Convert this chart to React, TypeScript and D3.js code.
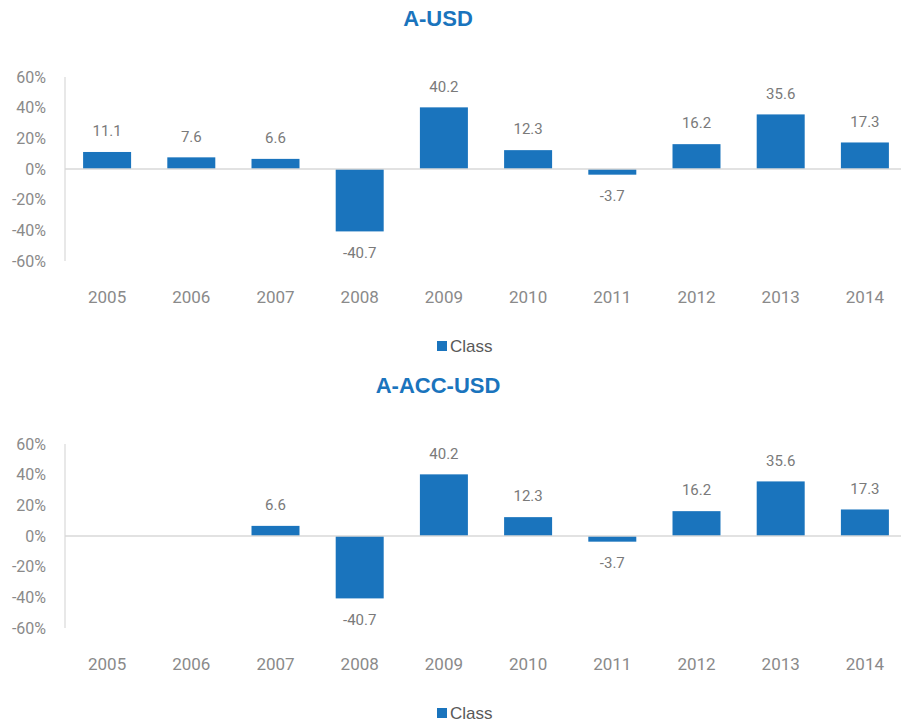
import React, { useRef, useEffect } from "react";
import * as d3 from "d3";

const years = ["2005", "2006", "2007", "2008", "2009", "2010", "2011", "2012", "2013", "2014"];
const usdValues: (number | null)[] = [11.1, 7.6, 6.6, -40.7, 40.2, 12.3, -3.7, 16.2, 35.6, 17.3];
const accValues: (number | null)[] = [null, null, 6.6, -40.7, 40.2, 12.3, -3.7, 16.2, 35.6, 17.3];
const yTicks = [60, 40, 20, 0, -20, -40, -60];

const BLUE = "#1a74bd";
const width = 901;
const height = 722;

const App = () => {
  const svgRef = useRef<SVGSVGElement>(null);

  useEffect(() => {
    const svg = d3.select(svgRef.current);
    svg.selectAll("*").remove();

    const drawChart = (title: string, values: (number | null)[], top: number) => {
      const g = svg.append("g").attr("transform", `translate(0,${top})`);

      // title
      g.append("text")
        .attr("x", 438)
        .attr("y", 26)
        .attr("text-anchor", "middle")
        .attr("font-family", "Liberation Sans, Arial, sans-serif")
        .attr("font-weight", "bold")
        .attr("font-size", 22)
        .attr("fill", BLUE)
        .text(title);

      const x = d3.scaleBand()
        .domain(years)
        .range([65, 907])
        .paddingInner(0.43)
        .paddingOuter(0.215);

      const y = d3.scaleLinear()
        .domain([-60, 60])
        .range([261, 77]);

      // y axis line
      g.append("line")
        .attr("x1", 65).attr("x2", 65)
        .attr("y1", y(60)).attr("y2", y(-60))
        .attr("stroke", "#d9d9d9")
        .attr("stroke-width", 1.2);

      // y tick labels
      g.append("g")
        .selectAll("text")
        .data(yTicks)
        .join("text")
        .attr("x", 46)
        .attr("y", d => y(d))
        .attr("dy", "0.35em")
        .attr("text-anchor", "end")
        .attr("font-family", "Roboto, sans-serif")
        .attr("font-size", 16)
        .attr("fill", "#8a8a8a")
        .text(d => `${d}%`);

      // bars
      const data = years.map((yr, i) => ({ yr, v: values[i] })).filter(d => d.v !== null) as { yr: string; v: number }[];

      g.append("g")
        .attr("fill", BLUE)
        .selectAll("rect")
        .data(data)
        .join("rect")
        .attr("x", d => x(d.yr)!)
        .attr("y", d => y(Math.max(0, d.v)))
        .attr("width", x.bandwidth())
        .attr("height", d => Math.abs(y(d.v) - y(0)));

      // zero line
      g.append("line")
        .attr("x1", 65).attr("x2", width)
        .attr("y1", y(0)).attr("y2", y(0))
        .attr("stroke", "#d9d9d9")
        .attr("stroke-width", 1.5);

      // value labels (plain hyphen for negatives, like the source)
      g.append("g")
        .selectAll("text")
        .data(data)
        .join("text")
        .attr("x", d => x(d.yr)! + x.bandwidth() / 2)
        .attr("y", d => (d.v >= 0 ? y(d.v) - 21 : y(d.v) + 21))
        .attr("dy", "0.35em")
        .attr("text-anchor", "middle")
        .attr("font-family", "Roboto, sans-serif")
        .attr("font-size", 15)
        .attr("fill", "#7a7a7a")
        .text(d => d.v.toFixed(1));

      // x labels
      g.append("g")
        .selectAll("text")
        .data(years)
        .join("text")
        .attr("x", d => x(d)! + x.bandwidth() / 2)
        .attr("y", 297)
        .attr("dy", "0.35em")
        .attr("text-anchor", "middle")
        .attr("font-family", "Roboto, sans-serif")
        .attr("font-size", 17)
        .attr("fill", "#8a8a8a")
        .text(d => d);

      // legend
      const lg = g.append("g").attr("transform", "translate(437,346)");
      lg.append("rect")
        .attr("x", 0).attr("y", -5)
        .attr("width", 10).attr("height", 10)
        .attr("fill", BLUE);
      lg.append("text")
        .attr("x", 13)
        .attr("y", 0)
        .attr("dy", "0.35em")
        .attr("font-family", "Liberation Sans, Arial, sans-serif")
        .attr("font-size", 17)
        .attr("fill", "#595959")
        .text("Class");
    };

    drawChart("A-USD", usdValues, 0);
    drawChart("A-ACC-USD", accValues, 367);
  }, []);

  return (
    <svg
      ref={svgRef}
      width={width}
      height={height}
      style={{ position: "absolute", left: 0, top: 0, background: "#fff" }}
    />
  );
};

export default App;
